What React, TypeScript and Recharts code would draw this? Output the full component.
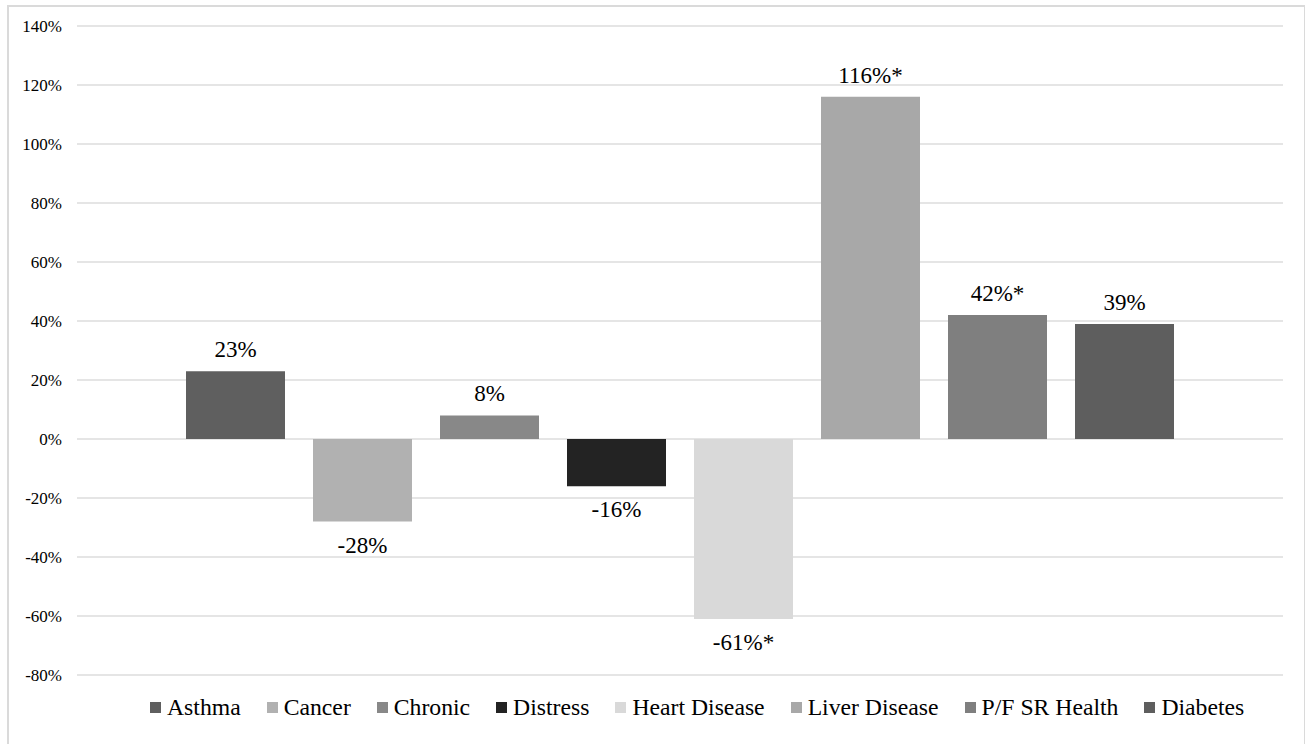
import { Bar, BarChart, CartesianGrid, LabelList, XAxis, YAxis } from "recharts";

const series = [
  "Asthma",
  "Cancer",
  "Chronic",
  "Distress",
  "Heart Disease",
  "Liver Disease",
  "P/F SR Health",
  "Diabetes",
];
const changes = [23, -28, 8, -16, -61, 116, 42, 39];
const significant = [false, false, false, false, true, true, true, false];
const colors = ["#5f5f5f", "#b1b1b1", "#888888", "#232323", "#d9d9d9", "#a8a8a8", "#7f7f7f", "#5e5e5e"];
const yTicks = [-80, -60, -40, -20, 0, 20, 40, 60, 80, 100, 120, 140];

const FONT = "Liberation Serif, DejaVu Serif, Times New Roman, serif";

// one category holding every condition as its own series
const row: Record<string, number | string> = { name: "change" };
series.forEach((s, i) => {
  row[s] = changes[i];
});
const data = [row];

function makeLabel(i: number) {
  return (props: any) => {
    const { x, y, width, height } = props;
    const top = Math.min(y, y + height);
    const bottom = Math.max(y, y + height);
    const v = changes[i];
    const text = `${v}%${significant[i] ? "*" : ""}`;
    const ty = v >= 0 ? top - 14 : bottom + 31;
    return (
      <text
        x={x + width / 2}
        y={ty}
        textAnchor="middle"
        style={{ fontFamily: FONT, fontSize: 23 }}
        fill="#000"
      >
        {text}
      </text>
    );
  };
}

export default function App() {
  return (
    <div style={{ position: "absolute", left: 0, top: 0, width: 1305, height: 744, background: "#fff", overflow: "hidden" }}>
      <div
        style={{
          position: "absolute",
          left: 7,
          top: 5,
          width: 1295,
          height: 760,
          border: "2px solid #dadada",
        }}
      />
      <div style={{ position: "absolute", left: 0, top: 0 }}>
        <BarChart
          width={1305}
          height={744}
          data={data}
          margin={{ top: 26, right: 22, bottom: 69, left: 0 }}
          barSize={99}
          barGap={28}
          style={{ fontFamily: FONT }}
        >
          <CartesianGrid vertical={false} stroke="#dcdcdc" strokeWidth={1.3} />
          <XAxis dataKey="name" hide />
          <YAxis
            width={77}
            domain={[-80, 140]}
            ticks={yTicks}
            interval={0}
            axisLine={false}
            tickLine={false}
            tickSize={6}
            tickMargin={9}
            tickFormatter={(v: number) => `${v}%`}
            tick={{ style: { fontFamily: FONT }, fontSize: 17, fill: "#000" }}
          />
          {series.map((s, i) => (
            <Bar key={s} dataKey={s} fill={colors[i]} isAnimationActive={false}>
              <LabelList dataKey={s} content={makeLabel(i)} />
            </Bar>
          ))}
        </BarChart>
      </div>
      <div
        style={{
          position: "absolute",
          left: 150,
          top: 694,
          display: "flex",
          alignItems: "center",
          fontFamily: FONT,
          fontSize: 23.7,
          color: "#000",
          whiteSpace: "nowrap",
        }}
      >
        {series.map((s, i) => (
          <div key={s} style={{ display: "flex", alignItems: "center", marginRight: 26 }}>
            <span style={{ display: "inline-block", width: 11, height: 11, background: colors[i], marginRight: 6 }} />
            <span>{s}</span>
          </div>
        ))}
      </div>
    </div>
  );
}
